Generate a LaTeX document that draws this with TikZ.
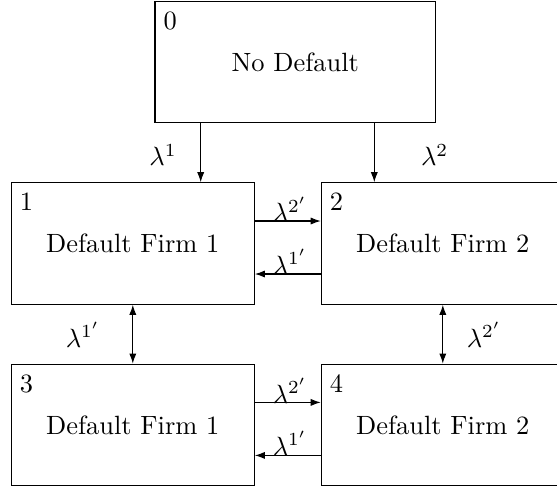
\documentclass[tikz,border=0pt]{standalone}
\usetikzlibrary{arrows.meta,calc}

\begin{document}
\begin{tikzpicture}[
  x=0.3785pt, y=-0.3785pt,
  box/.style={draw, rectangle, inner sep=0pt, minimum height=46pt},
  tag/.style={anchor=north west, inner xsep=3.3pt, inner ysep=4pt},
  lab/.style={inner sep=0pt},
  arr/.style={-{Latex[length=3.8pt,width=2.7pt]}},
  arrboth/.style={{Latex[length=3.8pt,width=2.7pt]}-{Latex[length=3.8pt,width=2.7pt]}}
]
\useasboundingbox (0,0) rectangle (557,494);
\clip (0,0) rectangle (557,494);

% states
\node[box, minimum width=106.2pt, minimum height=45.8pt] (b0) at (295.3,62.2) {No Default};
\node[box, minimum width=92pt] (b1) at (132.8,243.5) {Default Firm 1};
\node[box, minimum width=92pt] (b2) at (442.8,243.5) {Default Firm 2};
\node[box, minimum width=92pt] (b3) at (132.8,424.9) {Default Firm 1};
\node[box, minimum width=92pt] (b4) at (442.8,424.9) {Default Firm 2};

% state numbers
\node[tag] (n0) at (b0.north west) {0};
\node[tag] (n1) at (b1.north west) {1};
\node[tag] (n2) at (b2.north west) {2};
\node[tag] (n3) at (b3.north west) {3};
\node[tag] (n4) at (b4.north west) {4};

% transitions out of the no-default state
\path (b1.north) ++(67.9,0) coordinate (t1);
\path (b2.north) ++(-68.5,0) coordinate (t2);
\draw[arr] (t1 |- b0.south) -- (t1);
\draw[arr] (t2 |- b0.south) -- (t2);

% transitions between the single-default states
\draw[arr] ($(b1.east)+(0,-22.5)$) -- ($(b2.west)+(0,-22.5)$);
\draw[arr] ($(b2.west)+(0,30.5)$) -- ($(b1.east)+(0,30.5)$);
\draw[arr] ($(b3.east)+(0,-22.5)$) -- ($(b4.west)+(0,-22.5)$);
\draw[arr] ($(b4.west)+(0,30.5)$) -- ($(b3.east)+(0,30.5)$);

% vertical transitions
\draw[arrboth] (b1.south) -- (b3.north);
\draw[arrboth] (b2.south) -- (b4.north);

% intensities
\node[lab] (l1) at (163,155) {$\lambda^1$};
\node[lab] (l2) at (434.7,155) {$\lambda^2$};
\node[lab] (l12) at (290,209.5) {$\lambda^{2'}$};
\node[lab] (l21) at (290,261.7) {$\lambda^{1'}$};
\node[lab] (l34) at (290,390.9) {$\lambda^{2'}$};
\node[lab] (l43) at (290,443.1) {$\lambda^{1'}$};
\node[lab] (l13) at (83,335) {$\lambda^{1'}$};
\node[lab] (l24) at (484,335) {$\lambda^{2'}$};
\end{tikzpicture}
\end{document}
